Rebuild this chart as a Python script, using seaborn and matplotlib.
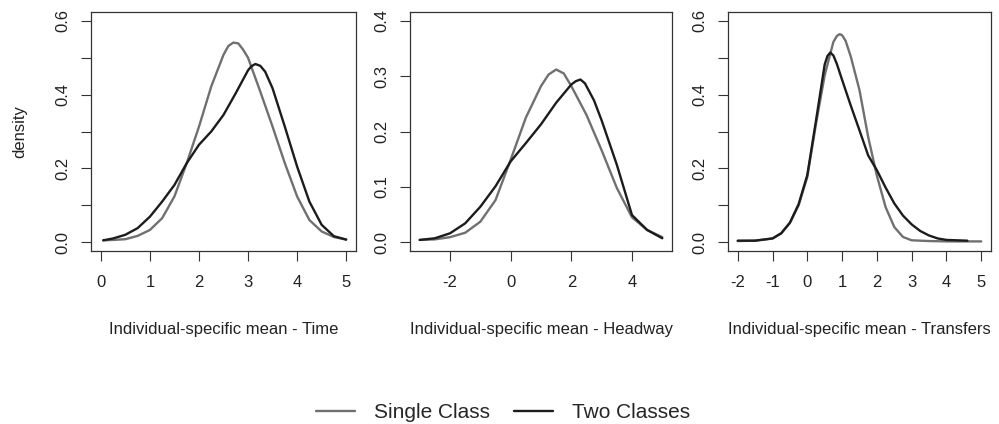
import seaborn as sns
import matplotlib.pyplot as plt

# values (density estimates)
time_x_single = [0.05, 0.25, 0.5, 0.75, 1.0, 1.25, 1.5, 1.75, 2.0, 2.25, 2.5, 2.6, 2.7, 2.8, 2.9, 3.0, 3.25, 3.5, 3.75, 4.0, 4.25, 4.5, 4.75, 5.0]
time_single = [0.005, 0.006, 0.008, 0.017, 0.033, 0.065, 0.124, 0.214, 0.313, 0.422, 0.508, 0.532, 0.541, 0.539, 0.522, 0.500, 0.408, 0.313, 0.214, 0.124, 0.060, 0.029, 0.014, 0.007]
time_x_two = [0.05, 0.25, 0.5, 0.75, 1.0, 1.25, 1.5, 1.75, 2.0, 2.25, 2.5, 2.75, 3.0, 3.07, 3.15, 3.25, 3.35, 3.5, 3.75, 4.0, 4.25, 4.5, 4.75, 5.0]
time_two = [0.005, 0.010, 0.020, 0.038, 0.069, 0.110, 0.155, 0.214, 0.264, 0.300, 0.345, 0.404, 0.466, 0.477, 0.483, 0.478, 0.462, 0.417, 0.313, 0.205, 0.110, 0.047, 0.016, 0.007]

head_x_single = [-3, -2.5, -2, -1.5, -1, -0.5, 0, 0.5, 1, 1.25, 1.5, 1.75, 2, 2.5, 3, 3.5, 4, 4.5, 5]
head_single = [0.004, 0.005, 0.009, 0.017, 0.037, 0.076, 0.149, 0.225, 0.282, 0.303, 0.312, 0.305, 0.282, 0.230, 0.166, 0.098, 0.045, 0.022, 0.009]
head_x_two = [-3, -2.5, -2, -1.5, -1, -0.5, 0, 0.5, 1, 1.5, 2, 2.15, 2.3, 2.45, 2.75, 3, 3.5, 4, 4.5, 5]
head_two = [0.004, 0.007, 0.016, 0.034, 0.064, 0.101, 0.146, 0.179, 0.213, 0.252, 0.285, 0.291, 0.294, 0.287, 0.256, 0.220, 0.140, 0.049, 0.022, 0.007]

tr_x_single = [-2, -1.5, -1, -0.75, -0.5, -0.25, 0, 0.25, 0.5, 0.75, 0.85, 0.93, 1.0, 1.1, 1.25, 1.5, 1.75, 2.0, 2.25, 2.5, 2.75, 3.0, 3.5, 4.0, 5.0]
tr_single = [0.003, 0.004, 0.010, 0.024, 0.052, 0.100, 0.177, 0.321, 0.453, 0.543, 0.559, 0.564, 0.561, 0.546, 0.503, 0.412, 0.285, 0.180, 0.095, 0.041, 0.014, 0.005, 0.003, 0.002, 0.002]
tr_x_two = [-2, -1.5, -1, -0.75, -0.5, -0.25, 0, 0.25, 0.5, 0.58, 0.66, 0.75, 0.85, 1.0, 1.25, 1.5, 1.75, 2.0, 2.25, 2.5, 2.75, 3.0, 3.25, 3.5, 3.75, 4.0, 4.6]
tr_two = [0.004, 0.004, 0.010, 0.024, 0.053, 0.103, 0.182, 0.330, 0.482, 0.505, 0.514, 0.506, 0.483, 0.440, 0.370, 0.303, 0.235, 0.195, 0.148, 0.105, 0.072, 0.048, 0.030, 0.018, 0.010, 0.006, 0.004]

panels = [
    ("Individual-specific mean - Time", time_x_single, time_single, time_x_two, time_two,
     (-0.2, 5.2), [0, 1, 2, 3, 4, 5], (-0.024, 0.624), [0, 0.1, 0.2, 0.3, 0.4, 0.5, 0.6],
     ["0.0", "", "0.2", "", "0.4", "", "0.6"]),
    ("Individual-specific mean - Headway", head_x_single, head_single, head_x_two, head_two,
     (-3.32, 5.32), [-2, 0, 2, 4], (-0.016, 0.416), [0, 0.1, 0.2, 0.3, 0.4],
     ["0.0", "0.1", "0.2", "0.3", "0.4"]),
    ("Individual-specific mean - Transfers", tr_x_single, tr_single, tr_x_two, tr_two,
     (-2.28, 5.28), [-2, -1, 0, 1, 2, 3, 4, 5], (-0.024, 0.624), [0, 0.1, 0.2, 0.3, 0.4, 0.5, 0.6],
     ["0.0", "", "0.2", "", "0.4", "", "0.6"]),
]

sns.set_style("white")
plt.rcParams['font.family'] = ['Liberation Sans', 'DejaVu Sans']

gray = '#707070'
black = '#1c1c1c'

fig = plt.figure(figsize=(9.99, 4.24), dpi=100)
lefts = [91, 410, 728]
widths = [265, 262, 263]

for i, (xlab, xs, ys, xt, yt, xlim, xticks, ylim, yticks, ylabels) in enumerate(panels):
    ax = fig.add_axes([lefts[i] / 999, 1 - 251 / 424, widths[i] / 999, 239 / 424])
    sns.lineplot(x=xs, y=ys, color=gray, linewidth=1.7, ax=ax, label="Single Class")
    sns.lineplot(x=xt, y=yt, color=black, linewidth=1.7, ax=ax, label="Two Classes")
    if ax.get_legend():
        ax.get_legend().remove()
    ax.set_xlim(xlim)
    ax.set_ylim(ylim)
    ax.set_xticks(xticks)
    ax.set_xticklabels([str(t) for t in xticks])
    ax.set_yticks(yticks)
    ax.set_yticklabels(ylabels, rotation=90, va='center')
    ax.tick_params(bottom=True, left=True, direction='out', length=7.2, width=0.8,
                   color='#333333', labelsize=12, labelcolor='#222222', pad=8)
    ax.tick_params(axis='x', pad=10)
    for s in ax.spines.values():
        s.set_color('#333333')
        s.set_linewidth(0.9)
    ax.set_xlabel(xlab, fontsize=12, labelpad=23, color='#222222')
    if i == 0:
        ax.set_ylabel("density", fontsize=12, labelpad=20, color='#222222')
        handles, labels = ax.get_legend_handles_labels()
    else:
        ax.set_ylabel("")

fig.legend(handles, labels, loc='center', bbox_to_anchor=(0.5035, 0.026), ncol=2,
           frameon=False, fontsize=15, handlelength=1.9, handletextpad=0.9,
           columnspacing=1.15)

fig.savefig("out.png", dpi=100)
